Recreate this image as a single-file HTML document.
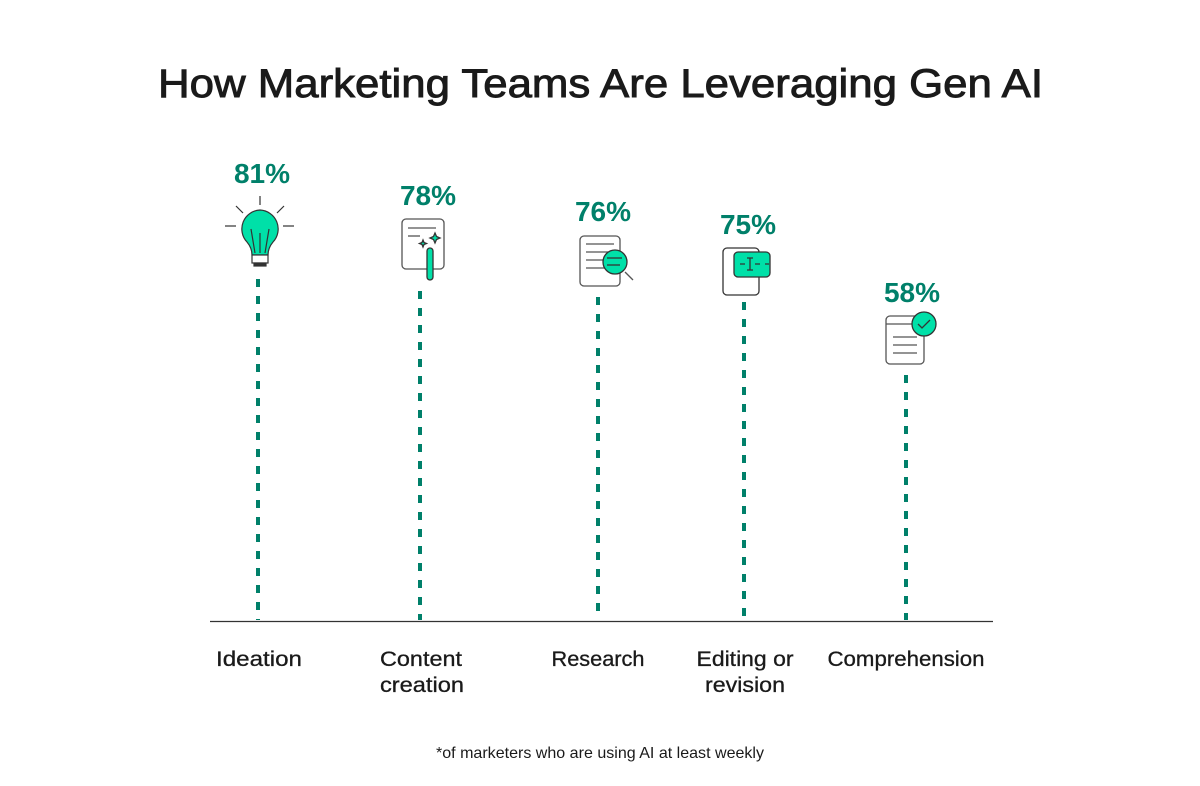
<!DOCTYPE html>
<html><head><style>
html,body{margin:0;padding:0;background:#fff;}
svg{display:block;}
text{font-family:"Liberation Sans",sans-serif;}
</style></head><body>
<svg width="1200" height="786" viewBox="0 0 1200 786" xmlns="http://www.w3.org/2000/svg">
<text x="158" y="97" textLength="885" lengthAdjust="spacingAndGlyphs" font-size="40" fill="#1a1a1a" stroke="#1a1a1a" stroke-width="0.9">How Marketing Teams Are Leveraging Gen AI</text>

<g stroke="#00806a" stroke-width="4" stroke-dasharray="8,9">
<line x1="258" y1="279" x2="258" y2="620"/>
<line x1="420" y1="291" x2="420" y2="620"/>
<line x1="598" y1="297" x2="598" y2="620"/>
<line x1="744" y1="302" x2="744" y2="620"/>
<line x1="906" y1="375" x2="906" y2="620"/>
</g>
<line x1="210" y1="621.5" x2="993" y2="621.5" stroke="#333" stroke-width="1.2"/>

<g font-size="28" font-weight="bold" fill="#00806a" text-anchor="middle">
<text x="262" y="183">81%</text>
<text x="428" y="205">78%</text>
<text x="603" y="221">76%</text>
<text x="748" y="234">75%</text>
<text x="912" y="302">58%</text>
</g>

<!-- bulb -->
<g stroke="#333" stroke-width="1.2">
<line x1="260" y1="196" x2="260" y2="205"/>
<line x1="236" y1="206" x2="243" y2="213"/>
<line x1="284" y1="206" x2="277" y2="213"/>
<line x1="225" y1="226" x2="236" y2="226"/>
<line x1="283" y1="226" x2="294" y2="226"/>
<path d="M260 210 a19 19 0 0 1 13 32 q-5 6 -5 13 h-16 q0 -7 -5 -13 a19 19 0 0 1 13 -32z" fill="#00e0a8"/>
<path d="M255 253 l-4 -24 M265 253 l4 -24 M260 253 v-20" fill="none"/>
<rect x="252" y="255" width="16" height="8" fill="#fff"/>
<rect x="254" y="263" width="12" height="3" fill="#333"/>
</g>
<!-- content creation -->
<g stroke="#555" stroke-width="1.3" fill="none">
<rect x="402" y="219" width="42" height="50" rx="4" fill="#fff"/>
<line x1="408" y1="228" x2="436" y2="228"/>
<line x1="408" y1="236" x2="420" y2="236"/>
<rect x="427" y="248" width="6" height="32" rx="3" fill="#00e0a8" stroke="#333"/>
<path d="M435 233 l1.5 3.5 3.5 1.5 -3.5 1.5 -1.5 3.5 -1.5 -3.5 -3.5 -1.5 3.5 -1.5z" fill="#00e0a8" stroke="#333"/>
<path d="M423 240 l1 2.5 2.5 1 -2.5 1 -1 2.5 -1 -2.5 -2.5 -1 2.5 -1z" fill="#00e0a8" stroke="#333"/>
</g>
<!-- research -->
<g stroke="#555" stroke-width="1.3" fill="none">
<rect x="580" y="236" width="40" height="50" rx="4" fill="#fff"/>
<line x1="586" y1="244" x2="614" y2="244"/>
<line x1="586" y1="252" x2="608" y2="252"/>
<line x1="586" y1="260" x2="605" y2="260"/>
<line x1="586" y1="268" x2="605" y2="268"/>
<line x1="625" y1="272" x2="633" y2="280"/>
<circle cx="615" cy="262" r="12" fill="#00e0a8" stroke="#333"/>
<line x1="607" y1="258" x2="622" y2="258" stroke="#333"/>
<line x1="607" y1="265" x2="620" y2="265" stroke="#333"/>
</g>
<!-- editing -->
<g stroke="#333" stroke-width="1.3">
<rect x="723" y="248" width="36" height="47" rx="4" fill="#fff"/>
<rect x="734" y="252" width="36" height="25" rx="4" fill="#00e0a8"/>
<path d="M740 264 h5 M755 264 h5 M750 258 v12 M747 258 h6 M747 270 h6 M765 264 h4" fill="none"/>
</g>
<!-- comprehension -->
<g stroke="#555" stroke-width="1.3" fill="none">
<rect x="886" y="316" width="38" height="48" rx="4" fill="#fff"/>
<line x1="886" y1="324" x2="914" y2="324"/>
<line x1="893" y1="337" x2="917" y2="337"/>
<line x1="893" y1="345" x2="917" y2="345"/>
<line x1="893" y1="353" x2="917" y2="353"/>
<circle cx="924" cy="324" r="12" fill="#00e0a8" stroke="#333"/>
<path d="M918 324 l4 4 8 -8" stroke="#333"/>
</g>

<g font-size="21" fill="#1a1a1a" text-anchor="middle" stroke="#1a1a1a" stroke-width="0.3">
<text x="259" y="666" textLength="86" lengthAdjust="spacingAndGlyphs">Ideation</text>
<text x="421" y="666" textLength="82" lengthAdjust="spacingAndGlyphs">Content</text>
<text x="422" y="692" textLength="84" lengthAdjust="spacingAndGlyphs">creation</text>
<text x="598" y="666" textLength="93" lengthAdjust="spacingAndGlyphs">Research</text>
<text x="745" y="666" textLength="97" lengthAdjust="spacingAndGlyphs">Editing or</text>
<text x="745" y="692" textLength="80" lengthAdjust="spacingAndGlyphs">revision</text>
<text x="906" y="666" textLength="157" lengthAdjust="spacingAndGlyphs">Comprehension</text>
</g>
<text x="600" y="758" text-anchor="middle" font-size="16" fill="#1a1a1a" textLength="328" lengthAdjust="spacingAndGlyphs">*of marketers who are using AI at least weekly</text>
</svg>
</body></html>
